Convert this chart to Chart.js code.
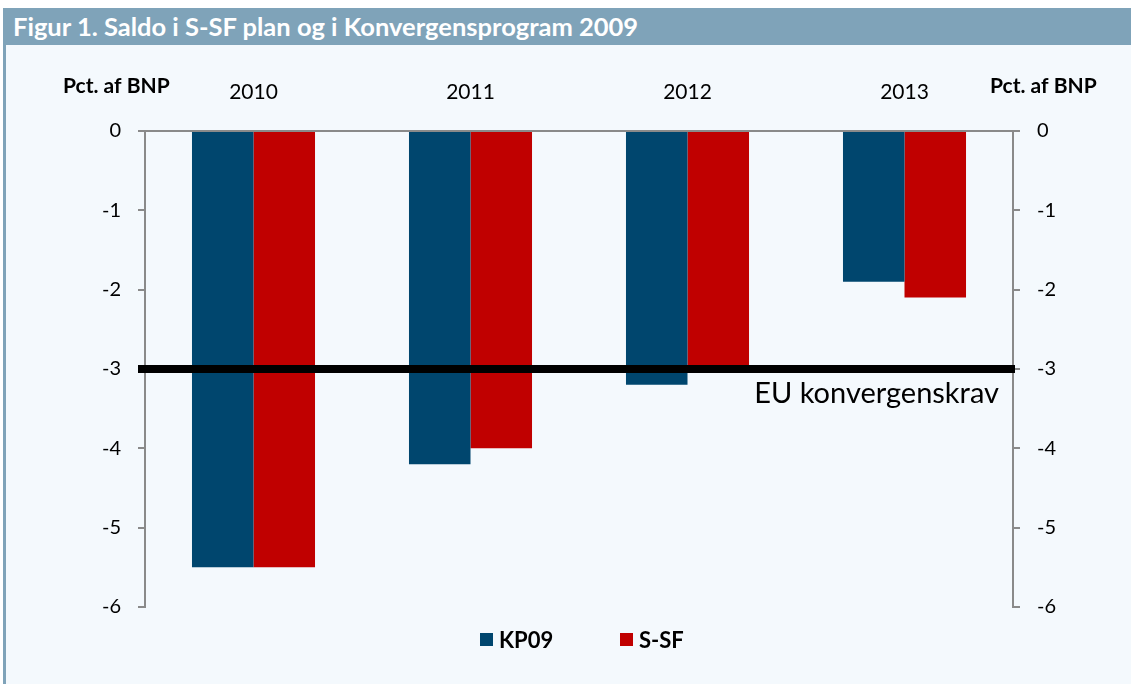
<!DOCTYPE html>
<html><head><meta charset="utf-8">
<script src="https://cdn.jsdelivr.net/npm/chart.js@4.4.1/dist/chart.umd.min.js"></script>
<style>
html,body{margin:0;padding:0;background:#fff;width:1131px;height:684px;overflow:hidden;font-family:Lato,sans-serif}
#title{position:absolute;left:3px;top:8px;width:1128px;height:37px;background:#7fa3b9;color:#fff;font-weight:bold;font-size:25.5px;line-height:37px;padding-left:10px;box-sizing:border-box;white-space:nowrap}
#panel{position:absolute;left:3px;top:45px;width:1128px;height:639px;background:#f4f9fd;border-left:3px solid #7fa3b9;box-sizing:border-box}
#wrap{position:absolute;left:6px;top:45px;width:1125px;height:639px}
.lg{position:absolute;top:628px;font-weight:bold;font-size:22px;color:#000;line-height:24px}
.sw{position:absolute;width:13px;height:13px}
</style></head>
<body>
<div id="title">Figur 1. Saldo i S-SF plan og i Konvergensprogram 2009</div>
<div id="panel"></div>
<div id="wrap"><canvas id="c" width="1125" height="639"></canvas></div>
<div id="legend"></div>
<script>
const categories = ['2010', '2011', '2012', '2013'];
const seriesNames = ['KP09', 'S-SF'];
const kp09 = [-5.5, -4.2, -3.2, -1.9];
const ssf = [-5.5, -4.0, -3.0, -2.1];
const yMin = -6, yMax = 0, yStep = 1;
const euLimit = -3;
const euLabel = 'EU konvergenskrav';
const axisTitle = 'Pct. af BNP';
const colors = ['#00466e', '#c00000'];

// HTML legend
const lgPos = [480, 620];
const legend = document.getElementById('legend');
seriesNames.forEach((n, i) => {
  const s = document.createElement('div');
  s.className = 'sw'; s.style.left = lgPos[i] + 'px'; s.style.top = '633px'; s.style.background = colors[i];
  legend.appendChild(s);
  const t = document.createElement('div');
  t.className = 'lg'; t.style.left = (lgPos[i] + 19) + 'px'; t.textContent = n;
  legend.appendChild(t);
});

const FONT = 'Lato';
const GREY = '#8a8a8a';

const overlay = {
  id: 'overlay',
  afterDatasetsDraw(chart) {
    const {ctx, chartArea, scales} = chart;
    const y = scales.y.getPixelForValue(euLimit);
    ctx.save();
    ctx.strokeStyle = '#000';
    ctx.lineWidth = 8;
    ctx.beginPath();
    ctx.moveTo(chartArea.left - 7, y);
    ctx.lineTo(chartArea.right + 2, y);
    ctx.stroke();
    ctx.fillStyle = '#000';
    ctx.font = '29px ' + FONT;
    ctx.textAlign = 'right';
    ctx.textBaseline = 'alphabetic';
    ctx.fillText(euLabel, chartArea.right - 14, y + 34);
    ctx.font = 'bold 21px ' + FONT;
    ctx.textAlign = 'left';
    ctx.fillText(axisTitle, 57, 48);
    ctx.fillText(axisTitle, 984, 48);
    ctx.restore();
  }
};

const yAxis = (pos, w) => ({
  type: 'linear', position: pos, min: yMin, max: yMax,
  afterFit(s) { s.width = w; },
  ticks: { stepSize: yStep, color: '#000', font: {family: FONT, size: 20}, padding: 17,
           callback: v => String(v) },
  grid: { drawOnChartArea: false, drawTicks: true, tickLength: 7, color: GREY, lineWidth: 2 },
  border: { display: true, color: GREY, width: 2 }
});

new Chart(document.getElementById('c'), {
  type: 'bar',
  data: {
    labels: categories,
    datasets: [
      { label: seriesNames[0], data: kp09, backgroundColor: colors[0], yAxisID: 'y' },
      { label: seriesNames[1], data: ssf, backgroundColor: colors[1], yAxisID: 'y' }
    ]
  },
  options: {
    responsive: false, animation: false,
    layout: { padding: { top: 0, bottom: 77, left: 0, right: 0 } },
    datasets: { bar: { categoryPercentage: 0.567, barPercentage: 1.0 } },
    plugins: { legend: { display: false }, tooltip: { enabled: false } },
    scales: {
      x: {
        position: 'top', z: 1,
        afterFit(s) { s.height = 86; },
        ticks: { color: '#000', font: {family: FONT, size: 21}, padding: 26 },
        grid: { display: false, drawTicks: false },
        border: { display: true, color: GREY, width: 2 }
      },
      y: yAxis('left', 139),
      y2: yAxis('right', 118)
    }
  },
  plugins: [overlay]
});
</script>
</body></html>
